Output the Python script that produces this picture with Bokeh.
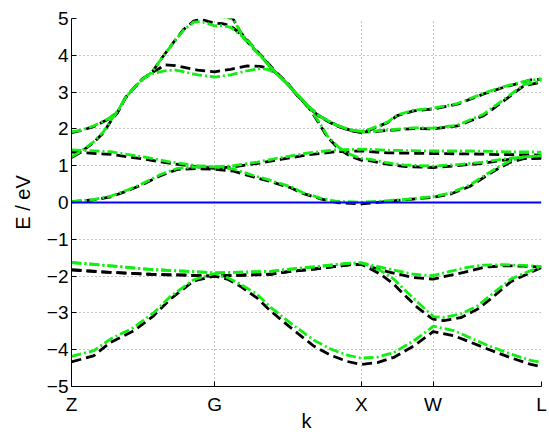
from bokeh.plotting import figure
from bokeh.models import Range1d, FixedTicker, Span
from bokeh.embed import file_html
from bokeh.resources import INLINE

# ---- k-path ticks ----
K_TICKS = [0.0, 0.975, 1.975, 2.463, 3.202]
K_LABELS = ["Z", "G", "X", "W", "L"]
E_TICKS = [-5, -4, -3, -2, -1, 0, 1, 2, 3, 4, 5]
E_FERMI = 0.0

# ---- valence bands ----
k_v1 = [0, 0.15, 0.266, 0.423, 0.559, 0.675, 0.763, 0.832, 0.975, 1.061, 1.152, 1.266, 1.357, 1.493,
        1.650, 1.765, 1.879, 1.975, 2.084, 2.195, 2.331, 2.447, 2.463, 2.604, 2.720, 2.834, 2.993, 3.129, 3.202]
e_v1_black = [-4.33, -4.17, -3.80, -3.49, -3.08, -2.62, -2.35, -2.13, -2.00, -2.08, -2.28, -2.60, -2.95, -3.40,
              -3.90, -4.15, -4.32, -4.40, -4.35, -4.21, -3.90, -3.56, -3.51, -3.62, -3.80, -3.98, -4.22, -4.40, -4.46]
e_v1_green = [-4.18, -4.03, -3.71, -3.40, -3.00, -2.55, -2.30, -2.10, -1.93, -2.04, -2.22, -2.50, -2.85, -3.28,
              -3.74, -3.98, -4.15, -4.23, -4.20, -4.08, -3.76, -3.42, -3.36, -3.48, -3.68, -3.88, -4.12, -4.29, -4.35]

k_v2 = [0, 0.266, 0.539, 0.832, 0.975, 1.104, 1.357, 1.493, 1.650, 1.902, 1.975, 2.106, 2.195, 2.263,
        2.356, 2.447, 2.463, 2.536, 2.652, 2.765, 2.856, 2.993, 3.129, 3.202]
e_v2_black = [-1.83, -1.90, -1.95, -1.98, -2.00, -1.98, -1.95, -1.87, -1.81, -1.69, -1.68, -1.95, -2.22, -2.49,
              -2.85, -3.13, -3.17, -3.21, -3.13, -2.90, -2.62, -2.15, -1.90, -1.77]
e_v2_green = [-1.63, -1.72, -1.82, -1.88, -1.91, -1.90, -1.87, -1.81, -1.75, -1.65, -1.64, -1.85, -2.08, -2.35,
              -2.70, -3.03, -3.10, -3.12, -3.03, -2.81, -2.52, -2.08, -1.85, -1.75]

k_v3 = [0, 0.266, 0.539, 0.832, 0.975, 1.104, 1.357, 1.493, 1.650, 1.902, 1.975, 2.152, 2.331, 2.463,
        2.672, 2.808, 2.945, 3.081, 3.202]
e_v3_black = [-1.83, -1.90, -1.95, -1.98, -2.00, -1.98, -1.95, -1.87, -1.81, -1.69, -1.68, -1.88, -2.04, -2.08,
              -1.90, -1.76, -1.72, -1.73, -1.76]
e_v3_green = [-1.63, -1.72, -1.82, -1.88, -1.91, -1.90, -1.87, -1.81, -1.75, -1.65, -1.64, -1.80, -1.95, -1.99,
              -1.78, -1.70, -1.69, -1.71, -1.74]

# ---- conduction bands ----
k_c1 = [0, 0.15, 0.266, 0.382, 0.491, 0.607, 0.723, 0.859, 0.975, 1.104, 1.234, 1.357, 1.493, 1.581, 1.697,
        1.806, 1.975, 2.152, 2.263, 2.463, 2.584, 2.720, 2.808, 2.902, 2.993, 3.081, 3.202]
e_c1_black = [0.02, 0.07, 0.15, 0.32, 0.50, 0.73, 0.90, 0.92, 0.90, 0.85, 0.70, 0.57, 0.40, 0.24, 0.10,
              0.00, -0.04, 0.03, 0.07, 0.14, 0.23, 0.45, 0.68, 0.91, 1.10, 1.19, 1.20]
e_c1_green = [0.02, 0.08, 0.17, 0.34, 0.53, 0.76, 0.93, 0.97, 0.97, 0.91, 0.74, 0.60, 0.43, 0.26, 0.12,
              0.03, 0.01, 0.05, 0.08, 0.16, 0.26, 0.49, 0.72, 0.95, 1.14, 1.24, 1.27]

k_c2 = [0, 0.266, 0.491, 0.675, 0.859, 0.975, 1.104, 1.266, 1.425, 1.616, 1.806, 1.975, 2.152, 2.463,
        2.720, 2.945, 3.202]
e_c2_black = [1.37, 1.31, 1.18, 1.06, 0.97, 0.93, 0.97, 1.06, 1.17, 1.30, 1.38, 1.40, 1.35, 1.33, 1.32, 1.30, 1.29]
e_c2_green = [1.43, 1.38, 1.24, 1.10, 1.00, 0.97, 1.00, 1.10, 1.22, 1.35, 1.43, 1.45, 1.42, 1.40, 1.40, 1.38, 1.37]

k_c3 = [0, 0.061, 0.15, 0.218, 0.266, 0.314, 0.368, 0.423, 0.482, 0.55, 0.618, 0.695, 0.763, 0.832, 0.879,
        0.93, 0.975, 1.029, 1.084, 1.152, 1.234, 1.309, 1.391, 1.472, 1.541, 1.616, 1.684, 1.745, 1.820,
        1.902, 1.975, 2.038, 2.152, 2.263, 2.463, 2.629, 2.808, 2.945, 3.081, 3.202]
e_c3_black = [1.22, 1.36, 1.63, 1.90, 2.20, 2.45, 2.85, 3.10, 3.35, 3.55, 3.94, 4.35, 4.70, 4.93, 4.98,
              4.92, 4.87, 4.86, 4.80, 4.58, 4.21, 3.90, 3.53, 3.22, 2.90, 2.58, 2.17, 1.77, 1.46,
              1.25, 1.15, 1.13, 1.04, 0.98, 0.95, 1.00, 1.07, 1.15, 1.21, 1.22]
e_c3_green = [1.24, 1.38, 1.65, 1.92, 2.22, 2.48, 2.85, 3.10, 3.35, 3.55, 3.94, 4.35, 4.68, 4.90, 4.92,
              4.86, 4.80, 4.81, 4.76, 4.56, 4.20, 3.88, 3.52, 3.22, 2.92, 2.60, 2.20, 1.80, 1.50,
              1.30, 1.20, 1.17, 1.08, 1.02, 0.99, 1.03, 1.10, 1.18, 1.24, 1.27]

k_c4 = [0, 0.061, 0.15, 0.252, 0.314, 0.368, 0.423, 0.482, 0.55, 0.64, 0.709, 0.859, 0.975, 1.084, 1.198,
        1.288, 1.334, 1.391, 1.472, 1.541, 1.616, 1.697, 1.806, 1.902, 1.975, 2.038, 2.152, 2.220, 2.331,
        2.463, 2.629, 2.808, 2.945, 3.129, 3.202]
e_c4_black = [1.90, 1.95, 2.06, 2.27, 2.45, 2.85, 3.10, 3.35, 3.53, 3.74, 3.72, 3.60, 3.55, 3.62, 3.71,
              3.70, 3.65, 3.53, 3.22, 2.90, 2.58, 2.31, 2.08, 1.95, 1.90, 1.98, 2.17, 2.36, 2.49,
              2.54, 2.67, 2.95, 3.13, 3.33, 3.35]
e_c4_green = [1.92, 1.96, 2.08, 2.28, 2.48, 2.85, 3.10, 3.35, 3.50, 3.58, 3.60, 3.47, 3.41, 3.47, 3.58,
              3.64, 3.62, 3.52, 3.22, 2.92, 2.60, 2.33, 2.10, 1.97, 1.93, 2.00, 2.18, 2.38, 2.51,
              2.56, 2.69, 2.97, 3.15, 3.33, 3.35]

k_c5 = [0.70, 0.80, 0.88, 0.975, 1.061, 1.104, 1.152, 1.234, 1.309, 1.391, 1.472, 1.541, 1.616, 1.697,
        1.806, 1.902, 1.975, 2.038, 2.331, 2.463, 2.629, 2.808, 2.945, 3.081, 3.202]
e_c5_black = [5.60, 5.25, 5.10, 5.08, 5.05, 4.97, 4.62, 4.25, 3.92, 3.55, 3.24, 2.92, 2.60, 2.33,
              2.10, 1.96, 1.92, 1.92, 2.01, 2.00, 2.08, 2.36, 2.76, 3.17, 3.27]
e_c5_green = [5.55, 5.20, 5.08, 5.06, 5.03, 4.98, 4.62, 4.24, 3.90, 3.53, 3.22, 2.92, 2.60, 2.33,
              2.10, 1.97, 1.93, 1.93, 2.03, 2.02, 2.10, 2.40, 2.80, 3.20, 3.30]

bands = [
    (k_v1, e_v1_black, e_v1_green),
    (k_v2, e_v2_black, e_v2_green),
    (k_v3, e_v3_black, e_v3_green),
    (k_c1, e_c1_black, e_c1_green),
    (k_c2, e_c2_black, e_c2_green),
    (k_c3, e_c3_black, e_c3_green),
    (k_c4, e_c4_black, e_c4_green),
    (k_c5, e_c5_black, e_c5_green),
]

FONT = "Liberation Sans"

p = figure(width=549, height=434, output_backend="svg", toolbar_location=None,
           x_range=Range1d(K_TICKS[0], K_TICKS[-1]), y_range=Range1d(E_TICKS[0], E_TICKS[-1]),
           min_border_left=71, min_border_right=8, min_border_top=18, min_border_bottom=48)
p.outline_line_color = None
p.background_fill_color = "white"
p.border_fill_color = "white"

p.xaxis.ticker = FixedTicker(ticks=K_TICKS)
p.xaxis.major_label_overrides = {t: s for t, s in zip(K_TICKS, K_LABELS)}
p.yaxis.ticker = FixedTicker(ticks=E_TICKS)
p.yaxis.major_label_overrides = {t: (("\u2212" + str(-t)) if t < 0 else str(t)) for t in E_TICKS}
p.xgrid.ticker = FixedTicker(ticks=K_TICKS)
p.ygrid.ticker = FixedTicker(ticks=E_TICKS)
p.grid.grid_line_color = "#8c8c8c"
p.grid.grid_line_dash = "1 3"
p.grid.grid_line_width = 1

for ax in (p.xaxis, p.yaxis):
    ax.axis_line_color = "black"
    ax.axis_line_width = 1
    ax.major_tick_in = 5
    ax.major_tick_out = 0
    ax.major_tick_line_color = "black"
    ax.minor_tick_line_color = None
    ax.major_label_text_font = FONT
    ax.major_label_text_font_size = "19px"
    ax.major_label_text_color = "black"
    ax.axis_label_text_font = FONT
    ax.axis_label_text_font_size = "20px"
    ax.axis_label_text_font_style = "normal"
    ax.axis_label_text_color = "black"

p.xaxis.major_label_standoff = 7
p.yaxis.major_label_standoff = 3
p.yaxis.axis_label = "E / eV"
p.yaxis.axis_label_standoff = 10
p.xaxis.axis_label = "k"
p.xaxis.axis_label_standoff = -8

for k, eb, eg in bands:
    p.line(k, eb, line_color="black", line_width=2.8, line_dash="10 5")
for k, eb, eg in bands:
    p.line(k, eg, line_color="#11ee11", line_width=2.8, line_dash="10 3 2 3")

p.add_layout(Span(location=E_FERMI, dimension="width", line_color="#0000ff", line_width=2))

open("out.html", "w").write(file_html(p, INLINE))
